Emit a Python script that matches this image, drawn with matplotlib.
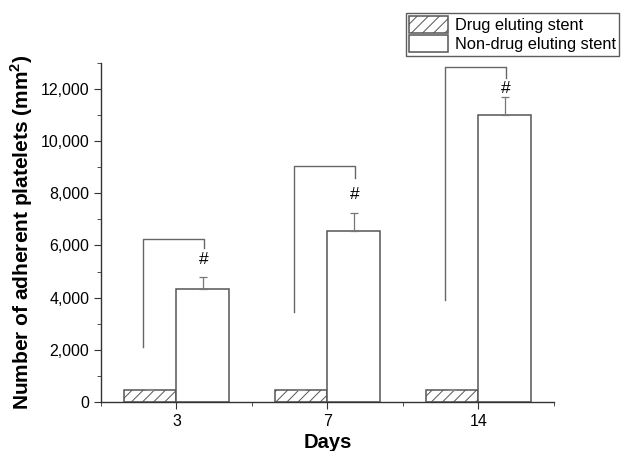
import numpy as np
import matplotlib
matplotlib.use("Agg")
import matplotlib.pyplot as plt
from matplotlib.ticker import FuncFormatter, MultipleLocator

plt.rcParams['font.family'] = ['Liberation Sans', 'DejaVu Sans']
plt.rcParams['hatch.color'] = '#999999'
plt.rcParams['hatch.linewidth'] = 0.7

days = ['3', '7', '14']
drug = [450, 460, 450]
drug_err = [40, 40, 40]
nondrug = [4330, 6560, 11000]
nondrug_err = [450, 690, 700]

# significance brackets: top, left-leg bottom, right-leg bottom, marker height
br_top = [6250, 9050, 12820]
br_left = [2110, 3450, 3910]
br_right = [5900, 8590, 12420]
mark_y = [5450, 7950, 12000]

x = np.arange(1, len(days) + 1)
w = 0.35
ec = '#555555'

fig = plt.figure(figsize=(6.21, 4.51), dpi=100)
ax = fig.add_axes([0.1626, 0.1086, 0.7295, 0.7523])

b1 = ax.bar(x - w / 2, drug, w, color='white', edgecolor=ec, hatch='///',
            linewidth=1.1, label='Drug eluting stent')
ax.errorbar(x - w / 2, drug, yerr=[np.zeros(3), drug_err], fmt='none',
            ecolor='#888888', capsize=3, elinewidth=0.8, capthick=0.8)
b2 = ax.bar(x + w / 2, nondrug, w, color='white', edgecolor=ec,
            linewidth=1.1, label='Non-drug eluting stent')
ax.errorbar(x + w / 2, nondrug, yerr=[np.zeros(3), nondrug_err], fmt='none',
            ecolor='#777777', capsize=3, elinewidth=0.9, capthick=0.9)

for i in range(len(days)):
    xl = x[i] - 0.225
    xr = x[i] + 0.18
    ax.plot([xl, xl, xr, xr], [br_left[i], br_top[i], br_top[i], br_right[i]],
            color='#666666', lw=1.0, clip_on=False)
    ax.text(xr, mark_y[i], '#', ha='center', va='center', fontsize=12.5)

ax.set_xlim(0.5, 3.5)
ax.set_ylim(0, 13000)
ax.set_xticks(x)
ax.set_xticklabels(days)
ax.xaxis.set_minor_locator(MultipleLocator(0.5))
ax.set_yticks(np.arange(0, 12001, 2000))
ax.yaxis.set_minor_locator(MultipleLocator(1000))
ax.yaxis.set_major_formatter(FuncFormatter(lambda v, p: '{:,.0f}'.format(v)))

for s in ['top', 'right']:
    ax.spines[s].set_visible(False)
for s in ['left', 'bottom']:
    ax.spines[s].set_color('#333333')
    ax.spines[s].set_linewidth(1.0)
ax.tick_params(which='major', length=5, color='#333333', labelsize=11.5)
ax.tick_params(which='minor', length=3, color='#333333')

ax.set_xlabel('Days', fontsize=14.5, fontweight='bold', labelpad=3)
ax.set_ylabel('Number of adherent platelets (mm$^\\mathregular{2}$)',
              fontsize=15, fontweight='bold', labelpad=4)

leg = fig.legend(handles=[b1, b2], loc='upper right',
                 bbox_to_anchor=(0.997, 0.972), fontsize=11.8, frameon=True,
                 fancybox=False, edgecolor='#333333', borderpad=0.2,
                 handlelength=2.4, handleheight=1.2, handletextpad=0.4,
                 labelspacing=0.15, borderaxespad=0)
leg.get_frame().set_linewidth(1.0)

fig.savefig('out.png', dpi=100)
